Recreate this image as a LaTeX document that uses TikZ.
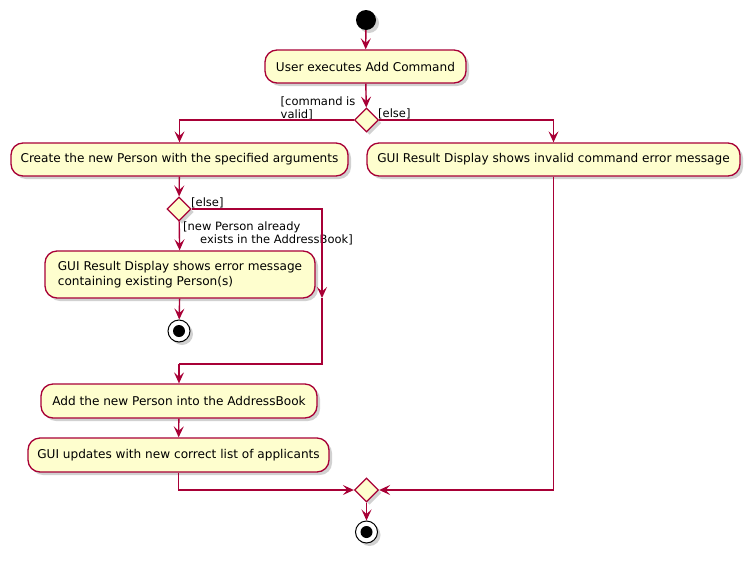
\documentclass[tikz,border=0pt]{standalone}
\usepackage{fontspec}
\setmainfont{DejaVu Sans}
\usetikzlibrary{arrows.meta,shapes.geometric,shadows}
\definecolor{uborder}{HTML}{A80036}
\definecolor{ufill}{HTML}{FEFECE}
\tikzset{
  x=1pt,y=-1pt,
  shd/.style={drop shadow={shadow xshift=3pt,shadow yshift=-3pt,opacity=0.3,fill=black!60}},
  actbox/.style={draw=uborder,fill=ufill,line width=1.3pt,rounded corners=12pt,inner sep=0pt,font=\fontsize{12.1}{14.5}\selectfont,shd},
  decis/.style={diamond,draw=uborder,fill=ufill,line width=1.3pt,inner sep=0pt,minimum width=24pt,minimum height=24pt,shd},
  startdot/.style={circle,fill=black,inner sep=0pt,minimum size=20pt,shd},
  stopdot/.style={circle,draw=black,fill=white,line width=1pt,inner sep=0pt,minimum size=22pt,shd,
    path picture={\fill[black] (path picture bounding box.center) circle[radius=6pt];}},
  flow/.style={draw=uborder,line width=1.4pt},
  arr/.style={flow,-{Stealth[length=11pt,width=10pt,inset=4.5pt]}},
  lbl/.style={font=\fontsize{11.5}{12.5}\selectfont,inner sep=0pt,align=left}
}
\begin{document}
\begin{tikzpicture}
\useasboundingbox (0,0) rectangle (755,560);
\node[startdot] (start) at (366,20) {};
\node[actbox,minimum width=201pt,minimum height=33pt] (n1) at (365.5,66.5) {User executes Add Command};
\node[decis] (d1) at (366.5,120) {};
\node[actbox,minimum width=337pt,minimum height=33pt] (n2) at (179.5,159.5) {Create the new Person with the specified arguments};
\node[actbox,minimum width=373pt,minimum height=33pt] (n3) at (553.5,159.5) {GUI Result Display shows invalid command error message};
\node[decis] (d2) at (179,209) {};
\node[actbox,minimum width=270pt,minimum height=47pt,align=left] (n4) at (180,274.5) {GUI Result Display shows error message\\containing existing Person(s)};
\node[stopdot] (s1) at (179,331) {};
\node[actbox,minimum width=276pt,minimum height=34pt] (n5) at (179,401) {Add the new Person into the AddressBook};
\node[actbox,minimum width=301pt,minimum height=34pt] (n6) at (178.5,455) {GUI updates with new correct list of applicants};
\node[decis] (d3) at (366.5,490) {};
\node[stopdot] (s2) at (366.5,532) {};

\node[lbl,anchor=south west] (l1) at (280.5,120) {[command is\\valid]};
\node[lbl,anchor=south west] (l2) at (378,119) {[else]};
\node[lbl,anchor=south west] (l3) at (191,208) {[else]};
\node[lbl,anchor=north west] (l4) at (183,222) {[new Person already\\\hspace*{17pt}exists in the AddressBook]};

\coordinate (cm) at (322,298);
\coordinate (cb) at (322,364);

\draw[arr] (start) -- (n1);
\draw[arr] (n1) -- (d1);
\draw[arr] (d1.west) -| (n2.north);
\draw[arr] (d1.east) -| (n3.north);
\draw[arr] (n2) -- (d2);
\draw[arr] (d2) -- (n4);
\draw[arr] (n4) -- (s1);
\draw[arr] (d2.east) -| (cm);
\draw[flow] (cm) |- (n5.north |- cb);
\draw[arr] (n5.north |- cb) -- (n5.north);
\draw[arr] (n5) -- (n6);
\draw[arr] (n6.south) |- (d3.west);
\draw[arr] (n3.south) |- (d3.east);
\draw[arr] (d3) -- (s2);
\end{tikzpicture}
\end{document}
